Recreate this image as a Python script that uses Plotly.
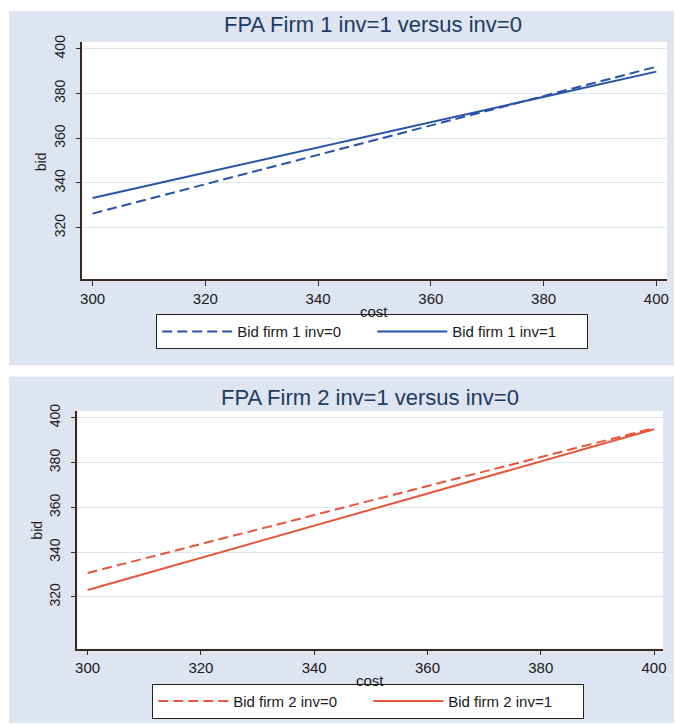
import plotly.graph_objects as go

# ---- data ----
cost = [300, 400]
bid_f1_inv0 = [326.3, 392.0]
bid_f1_inv1 = [333.3, 389.8]
bid_f2_inv0 = [330.7, 395.4]
bid_f2_inv1 = [323.1, 394.9]

x_ticks = [300, 320, 340, 360, 380, 400]
y_ticks = [320, 340, 360, 380, 400]

titles = ["FPA Firm 1 inv=1 versus inv=0", "FPA Firm 2 inv=1 versus inv=0"]
names1 = ["Bid firm 1 inv=0", "Bid firm 1 inv=1"]
names2 = ["Bid firm 2 inv=0", "Bid firm 2 inv=1"]
x_title = "cost"
y_title = "bid"

W, H = 677, 725
BLUE = "#2653a8"
RED = "#e8553b"
PANEL = "#dee4f0"
AXIS = "#3b2a22"
GRID = "#dfe5f0"
TITLE_C = "#1d3b63"
TXT = "#1a1a1a"
FONT = "Liberation Sans, Arial, sans-serif"


def px(x):
    return x / W


def py(y):
    return 1 - y / H


fig = go.Figure()
dash = "10px,5px"
fig.add_trace(go.Scatter(x=cost, y=bid_f1_inv0, mode="lines", name=names1[0],
                         line=dict(color=BLUE, width=2, dash=dash), xaxis="x", yaxis="y", legend="legend"))
fig.add_trace(go.Scatter(x=cost, y=bid_f1_inv1, mode="lines", name=names1[1],
                         line=dict(color=BLUE, width=2), xaxis="x", yaxis="y", legend="legend"))
fig.add_trace(go.Scatter(x=cost, y=bid_f2_inv0, mode="lines", name=names2[0],
                         line=dict(color=RED, width=2, dash=dash), xaxis="x2", yaxis="y2", legend="legend2"))
fig.add_trace(go.Scatter(x=cost, y=bid_f2_inv1, mode="lines", name=names2[1],
                         line=dict(color=RED, width=2), xaxis="x2", yaxis="y2", legend="legend2"))

# plot areas in pixels
p1 = dict(x0=81, x1=670, y0=35, y1=275)
p2 = dict(x0=76, x1=666, y0=408, y1=648)

common_x = dict(tickvals=x_ticks, showline=True, linecolor=AXIS, linewidth=1.5,
                ticks="outside", ticklen=5, tickcolor=AXIS, showgrid=False, zeroline=False,
                tickfont=dict(family=FONT, size=15, color=TXT), ticklabelstandoff=0)
common_y = dict(tickvals=y_ticks, showline=True, linecolor=AXIS, linewidth=1.5,
                ticks="outside", ticklen=5, tickcolor=AXIS, showgrid=True, gridcolor=GRID,
                gridwidth=1.2, zeroline=False, tickangle=-90,
                tickfont=dict(family=FONT, size=14, color=TXT), ticklabelstandoff=5)

leg_common = dict(orientation="h", xanchor="center", yanchor="middle",
                  bordercolor="#222", borderwidth=1, bgcolor="white",
                  font=dict(family=FONT, size=15, color=TXT), entrywidth=130,
                  itemwidth=70, tracegroupgap=0)

fig.update_layout(
    width=W, height=H, margin=dict(l=0, r=0, t=0, b=0),
    paper_bgcolor="white", plot_bgcolor="rgba(0,0,0,0)",
    font=dict(family=FONT),
    xaxis=dict(domain=[px(p1["x0"]), px(p1["x1"])], range=[298.2, 401.9], anchor="y", **common_x),
    yaxis=dict(domain=[py(p1["y1"]), py(p1["y0"])], range=[296.9, 403.2], anchor="x", **common_y),
    xaxis2=dict(domain=[px(p2["x0"]), px(p2["x1"])], range=[298.2, 401.6], anchor="y2", **common_x),
    yaxis2=dict(domain=[py(p2["y1"]), py(p2["y0"])], range=[296.9, 403.0], anchor="x2", **common_y),
    legend=dict(x=px(373), y=py(328), **leg_common),
    legend2=dict(x=px(369), y=py(701), **leg_common),
    showlegend=True,
)

shapes = []
for (y0, y1) in [(4, 362), (373, 723)]:
    shapes.append(dict(type="rect", xref="paper", yref="paper", x0=px(7), x1=1.0,
                       y0=py(y1), y1=py(y0), fillcolor=PANEL, line=dict(width=0), layer="below"))
for p in (p1, p2):
    shapes.append(dict(type="rect", xref="paper", yref="paper", x0=px(p["x0"]), x1=px(p["x1"]),
                       y0=py(p["y1"]), y1=py(p["y0"]), fillcolor="white", line=dict(width=0), layer="below"))
fig.update_layout(shapes=shapes)

# titles
fig.add_annotation(text=titles[0], xref="paper", yref="paper", x=px(374), y=py(18),
                   xanchor="center", yanchor="middle",
                   showarrow=False, font=dict(family=FONT, size=22, color=TITLE_C))
fig.add_annotation(text=titles[1], xref="paper", yref="paper", x=px(371), y=py(394),
                   xanchor="center", yanchor="middle",
                   showarrow=False, font=dict(family=FONT, size=22, color=TITLE_C))
# axis titles
for (cx, cy) in [(375, 307), (371, 680)]:
    fig.add_annotation(text=x_title, xref="paper", yref="paper", x=px(cx), y=py(cy),
                       xanchor="center", yanchor="middle", showarrow=False,
                       font=dict(family=FONT, size=15, color=TXT))
for (cx, cy) in [(40, 156), (35, 528)]:
    fig.add_annotation(text=y_title, xref="paper", yref="paper", x=px(cx), y=py(cy),
                       xanchor="center", yanchor="middle", showarrow=False, textangle=-90,
                       font=dict(family=FONT, size=14, color=TXT))

fig.write_html("out.html", config={"displayModeBar": False},
               post_script="document.body.style.margin='0';document.body.style.overflow='hidden';")
